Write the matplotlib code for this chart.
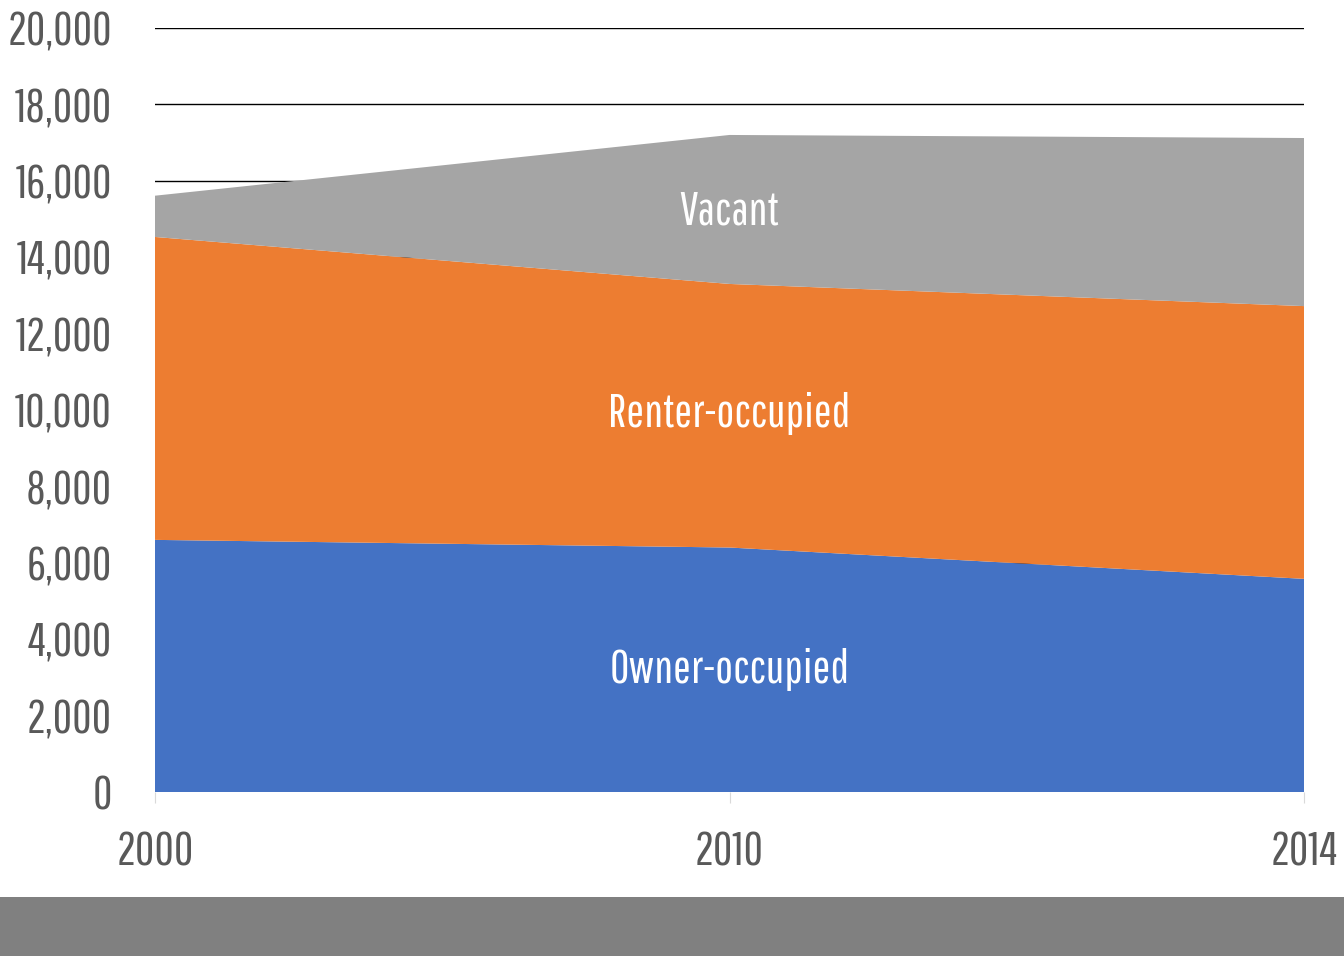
import matplotlib
matplotlib.use("Agg")
import matplotlib.pyplot as plt
from matplotlib.patches import Rectangle
from matplotlib.ticker import FuncFormatter
import numpy as np

years = ["2000", "2010", "2014"]
owner = [6600, 6400, 5580]
renter = [7930, 6900, 7140]
vacant = [1080, 3900, 4400]
series_names = ["Owner-occupied", "Renter-occupied", "Vacant"]
label_y = [3200, 9900, 15200]
colors = ["#4472C4", "#ED7D31", "#A5A5A5"]

# condensed face close to the original; falls back if missing
plt.rcParams["font.family"] = ["Pathway Gothic One", "Roboto Condensed", "DejaVu Sans"]

fig = plt.figure(figsize=(13.44, 9.56), dpi=100)
fig.patch.set_facecolor("white")
ax = fig.add_axes([155 / 1344, 1 - 792 / 956, 1149 / 1344, 764 / 956])

x = np.arange(len(years))
ax.stackplot(x, owner, renter, vacant, colors=colors, zorder=2, linewidth=0)

ax.set_xlim(0, len(years) - 1)
ax.set_ylim(0, 20000)
ax.set_yticks(np.arange(0, 20001, 2000))
ax.yaxis.set_major_formatter(FuncFormatter(lambda v, _: f"{int(v):,}"))
ax.set_xticks(x)
ax.set_xticklabels(years)
ax.grid(axis="y", color="black", linewidth=1.0, zorder=1)
ax.set_axisbelow(True)
for spine in ax.spines.values():
    spine.set_visible(False)
ax.tick_params(axis="y", length=0, pad=31, labelsize=34, labelcolor="#595959")
ax.tick_params(axis="x", length=8, color="#D9D9D9", pad=20, labelsize=34,
               labelcolor="#595959")

# series labels inside the areas
for name, ypos in zip(series_names, label_y):
    ax.text(x[1], ypos, name, ha="center", va="center", color="white",
            fontsize=34)

# gray footer band
fig.patches.append(Rectangle((0, 0), 1, 59 / 956, transform=fig.transFigure,
                             facecolor="#808080", edgecolor="none", zorder=0))

fig.savefig("out.png", dpi=100, facecolor="white")
